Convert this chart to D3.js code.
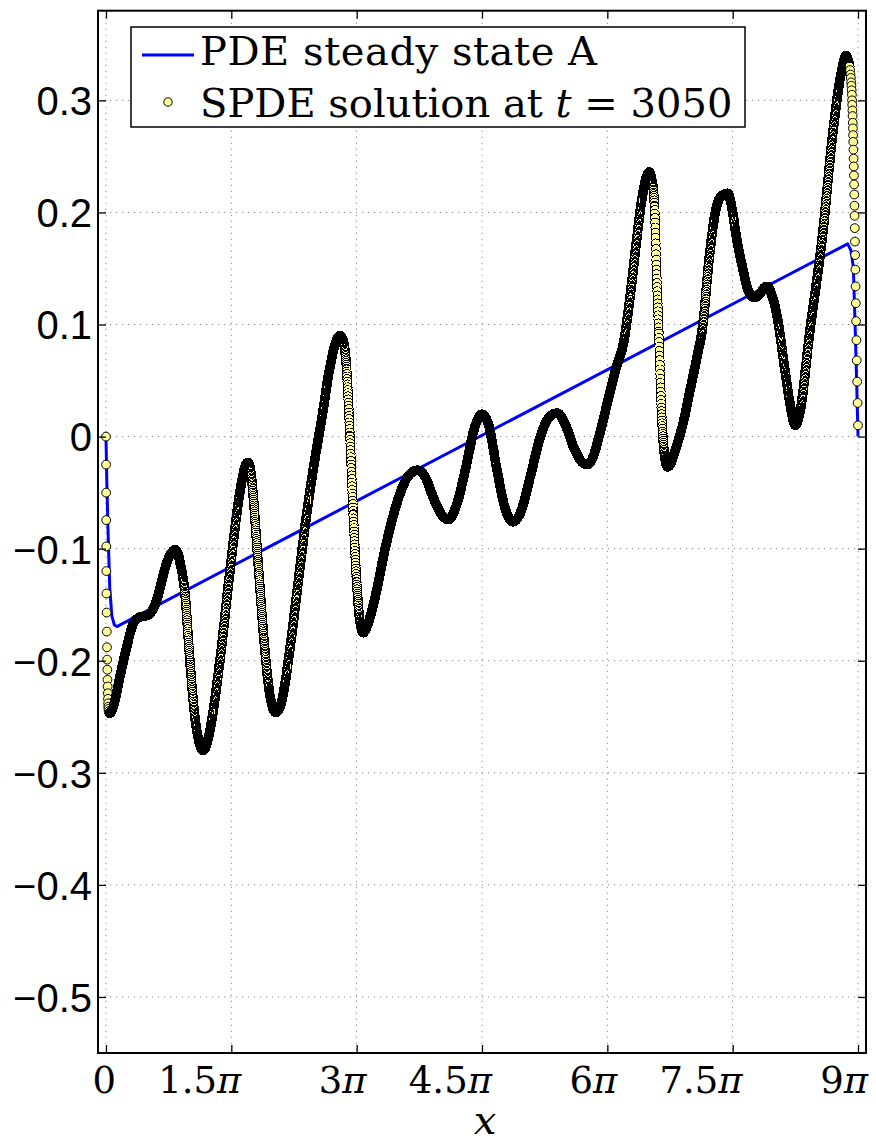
<!DOCTYPE html>
<html><head><meta charset="utf-8">
<script src="https://cdn.jsdelivr.net/npm/d3@7"></script>
<style>body{margin:0;background:#fff}svg{display:block}</style>
</head><body>
<svg id="chart" width="876" height="1143"></svg>
<script>
// ---------------- data (x in units of pi) ----------------
const xTickValues = [0, 1.5, 3, 4.5, 6, 7.5, 9];
const xTickNums = ["0", "1.5", "3", "4.5", "6", "7.5", "9"];
const yTickValues = [-0.5, -0.4, -0.3, -0.2, -0.1, 0, 0.1, 0.2, 0.3];
const legendLabels = ["PDE steady state A", "SPDE solution at "];

// PDE steady state A
const pdeX = [0, 0.01, 0.025, 0.045, 0.07, 0.1, 0.13, 8.876, 8.916, 8.944, 8.968, 8.985, 9.0];
const pdeY = [0, -0.04, -0.085, -0.135, -0.16, -0.168, -0.1695, 0.172, 0.166, 0.151, 0.092, 0.045, 0];

// SPDE solution at t = 3050
const spdeX = [
  0, 0.001, 0.002, 0.003, 0.004, 0.005, 0.006, 0.008, 0.010, 0.012, 0.014, 0.016, 0.018, 0.020,
  0.022, 0.024, 0.026, 0.028, 0.030, 0.033, 0.04,
  0.06, 0.087, 0.167, 0.247, 0.326, 0.407, 0.47, 0.526, 0.606, 0.68, 0.726, 0.78, 0.825,
  0.86, 0.885, 0.945, 1.004, 1.064, 1.112, 1.16, 1.2, 1.244, 1.363, 1.483, 1.602, 1.66,
  1.698, 1.73, 1.746, 1.818, 1.889, 1.96, 2.03, 2.08, 2.12, 2.2, 2.3, 2.4, 2.5, 2.58,
  2.68, 2.75, 2.80, 2.84, 2.88, 2.92, 2.96, 3.0, 3.04, 3.08, 3.12,
  3.2, 3.35, 3.5, 3.62, 3.73, 3.82, 3.92, 4.02, 4.10, 4.2, 4.3, 4.42, 4.5, 4.58, 4.68,
  4.78, 4.87, 4.96, 5.08, 5.2, 5.3, 5.4, 5.5, 5.6, 5.7, 5.76, 5.82, 5.9, 6.0, 6.1, 6.2,
  6.28, 6.35, 6.42, 6.47, 6.5, 6.53, 6.565, 6.59, 6.616, 6.65, 6.69, 6.72, 6.76, 6.8,
  6.9, 7.0, 7.07, 7.14, 7.22, 7.30, 7.37, 7.44, 7.5, 7.54, 7.62, 7.7, 7.76, 7.82, 7.88,
  7.92, 7.96, 8.04, 8.12, 8.18, 8.25, 8.3, 8.42, 8.577, 8.697, 8.797, 8.857,
  8.88, 8.9, 8.905, 8.91, 8.914, 8.918, 8.921, 8.924, 8.927, 8.929, 8.931, 8.933, 8.935,
  8.937, 8.939, 8.941, 8.943, 8.945, 8.947, 8.949, 8.951, 8.953, 8.955, 8.957, 8.959,
  8.961, 8.963, 8.965, 8.968, 8.971, 8.974, 8.977, 8.981, 8.985, 8.99, 8.995, 9.0
];
const spdeY = [
  0, -0.025, -0.050, -0.0745, -0.098, -0.120, -0.140, -0.157, -0.174, -0.188, -0.199, -0.208, -0.217, -0.223,
  -0.229, -0.234, -0.238, -0.241, -0.243, -0.245, -0.247,
  -0.246, -0.241, -0.214, -0.188, -0.167, -0.161, -0.160, -0.158, -0.146, -0.125, -0.113, -0.104, -0.101,
  -0.104, -0.112, -0.14, -0.2, -0.25, -0.272, -0.28, -0.276, -0.262, -0.2, -0.12, -0.05, -0.028,
  -0.023, -0.03, -0.04, -0.11, -0.18, -0.23, -0.246, -0.242, -0.23, -0.19, -0.13, -0.07, -0.02, 0.015,
  0.062, 0.084, 0.09, 0.085, 0.06, 0.0, -0.07, -0.13, -0.165, -0.175, -0.17,
  -0.15, -0.097, -0.055, -0.035, -0.03, -0.036, -0.055, -0.07, -0.074, -0.06, -0.03, 0.01, 0.02, 0.01, -0.03,
  -0.065, -0.076, -0.068, -0.035, 0.0, 0.017, 0.021, 0.01, -0.01, -0.023, -0.025, -0.02, 0.0, 0.03, 0.06, 0.086,
  0.13, 0.175, 0.215, 0.232, 0.236, 0.23, 0.205, 0.145, 0.092, 0.02, -0.02, -0.027, -0.024, -0.015,
  0.01, 0.045, 0.07, 0.098, 0.16, 0.203, 0.215, 0.217, 0.2, 0.18, 0.15, 0.128, 0.124, 0.127, 0.133,
  0.134, 0.128, 0.104, 0.062, 0.032, 0.010, 0.02, 0.092, 0.181, 0.27, 0.324, 0.340,
  0.336, 0.330, 0.327, 0.323, 0.320, 0.316, 0.313, 0.309, 0.305, 0.300, 0.296, 0.291, 0.286,
  0.280, 0.275, 0.269, 0.263, 0.256, 0.248, 0.241, 0.233, 0.225, 0.216, 0.206, 0.197,
  0.186, 0.174, 0.162, 0.149, 0.134, 0.119, 0.103, 0.086, 0.068, 0.049, 0.030, 0.010, 0
];

// ---------------- layout ----------------
const W = 876, H = 1143;
const box = {left: 98, right: 866, top: 10.7, bottom: 1053};
const PI = Math.PI;
const x = d3.scaleLinear().domain([-0.3, 9 * PI + 0.3]).range([box.left, box.right]);
const y = d3.scaleLinear().domain([-0.55, 0.38]).range([box.bottom, box.top]);
const svg = d3.select("#chart");
const serif = "'DejaVu Serif', 'Liberation Serif', serif";
const sans = "'Liberation Sans', Arial, Helvetica, sans-serif";
const markerR = 4.4;

svg.append("rect").attr("width", W).attr("height", H).attr("fill", "#fff");

// grid
const grid = svg.append("g").attr("stroke", "#888").attr("stroke-width", 1)
  .attr("stroke-dasharray", "1.2,4.8");
grid.selectAll("line.v").data(xTickValues).join("line").attr("class", "v")
  .attr("x1", d => x(d * PI)).attr("x2", d => x(d * PI))
  .attr("y1", box.top).attr("y2", box.bottom);
grid.selectAll("line.h").data(yTickValues).join("line").attr("class", "h")
  .attr("y1", d => y(d)).attr("y2", d => y(d))
  .attr("x1", box.left).attr("x2", box.right);

// PDE line
const pdePts = pdeX.map((v, i) => [x(v * PI), y(pdeY[i])]);
svg.append("path").attr("d", d3.line()(pdePts)).attr("fill", "none")
  .attr("stroke", "#0000ff").attr("stroke-width", 3).attr("stroke-linejoin", "round");

// SPDE markers: knots plus markers along the monotone curve (fine solver-grid look)
const spdePts = spdeX.map((v, i) => [x(v * PI), y(spdeY[i])]);
const segs = [];
const ctx = {
  cx: 0, cy: 0,
  moveTo(a, b) { this.cx = a; this.cy = b; },
  lineTo(a, b) { segs.push([this.cx, this.cy, this.cx + (a - this.cx) / 3, this.cy + (b - this.cy) / 3,
    a - (a - this.cx) / 3, b - (b - this.cy) / 3, a, b]); this.cx = a; this.cy = b; },
  bezierCurveTo(x1, y1, x2, y2, a, b) { segs.push([this.cx, this.cy, x1, y1, x2, y2, a, b]); this.cx = a; this.cy = b; },
  closePath() {}
};
d3.line().curve(d3.curveMonotoneX).context(ctx)(spdePts);
const minDense = 1.3, step = 0.15;
const isDenseSeg = segs.map(s => (s[6] - s[0]) >= minDense);
const markerPts = spdePts.map((p, i) => ({x: p[0], y: p[1],
  crisp: (i > 0 && isDenseSeg[i - 1]) || (i < segs.length && isDenseSeg[i])}));
segs.forEach((s, k) => {
  if (!isDenseSeg[k]) return;
  const [x0, y0, x1, y1, x2, y2, x3, y3] = s;
  const dx = x3 - x0;
  for (let xs = x0 + step; xs < x3 - 0.02; xs += step) {
    const t = (xs - x0) / dx, u = 1 - t;
    const yy = u * u * u * y0 + 3 * u * u * t * y1 + 3 * u * t * t * y2 + t * t * t * y3;
    markerPts.push({x: xs, y: yy, crisp: true});
  }
});
markerPts.sort((a, b) => a.x - b.x);
svg.append("g").selectAll("circle").data(markerPts).join("circle")
  .attr("cx", d => d.x).attr("cy", d => d.y).attr("r", markerR)
  .attr("shape-rendering", d => d.crisp ? "crispEdges" : "auto")
  .attr("fill", "#ffff99").attr("stroke", "#000").attr("stroke-width", 1);

// axes (ticks inside, box on)
const xt = xTickValues.map(v => v * PI);
const axB = svg.append("g").attr("transform", `translate(0,${box.bottom})`)
  .call(d3.axisBottom(x).tickValues(xt).tickSize(-8).tickFormat(""));
const axT = svg.append("g").attr("transform", `translate(0,${box.top})`)
  .call(d3.axisTop(x).tickValues(xt).tickSize(-8).tickFormat(""));
const axL = svg.append("g").attr("transform", `translate(${box.left},0)`)
  .call(d3.axisLeft(y).tickValues(yTickValues).tickSize(-8).tickPadding(6)
    .tickFormat(d => d === 0 ? "0" : d3.format(".1f")(d).replace("-", "\u2212")));
const axR = svg.append("g").attr("transform", `translate(${box.right},0)`)
  .call(d3.axisRight(y).tickValues(yTickValues).tickSize(-8).tickFormat(""));
[axB, axT, axL, axR].forEach(a => {
  a.select(".domain").remove();
  a.selectAll(".tick line").attr("stroke", "#000").attr("stroke-width", 1.3);
});
axL.selectAll(".tick text").attr("font-family", sans).attr("font-size", 40)
  .attr("fill", "#000").attr("dy", "0.36em");

// x tick labels (LaTeX style: number followed by pi)
const xl = svg.append("g").attr("font-family", serif).attr("font-size", 37).attr("fill", "#000");
xTickValues.forEach((v, i) => {
  const t = xl.append("text").attr("x", x(v * PI) + 10).attr("y", 1093).attr("text-anchor", "end");
  t.append("tspan").text(xTickNums[i]);
  if (v !== 0) t.append("tspan").attr("font-style", "italic").text("π");
});

svg.append("rect").attr("x", box.left).attr("y", box.top)
  .attr("width", box.right - box.left).attr("height", box.bottom - box.top)
  .attr("fill", "none").attr("stroke", "#000").attr("stroke-width", 2);

// x label
svg.append("text").attr("x", 485).attr("y", 1134).attr("text-anchor", "middle")
  .attr("font-family", serif).attr("font-style", "italic").attr("font-size", 40).text("x");

// legend
const lg = svg.append("g");
lg.append("rect").attr("x", 131).attr("y", 27).attr("width", 614).attr("height", 100)
  .attr("fill", "#fff").attr("stroke", "#000").attr("stroke-width", 1.5);
lg.append("line").attr("x1", 142).attr("x2", 194).attr("y1", 55).attr("y2", 55)
  .attr("stroke", "#0000ff").attr("stroke-width", 3);
lg.append("circle").attr("cx", 168).attr("cy", 102).attr("r", 4.2)
  .attr("fill", "#ffff99").attr("stroke", "#000").attr("stroke-width", 1);
lg.append("text").attr("x", 200).attr("y", 65).attr("font-family", serif).attr("font-size", 40)
  .attr("textLength", 397).attr("lengthAdjust", "spacing").text(legendLabels[0]);
const t2 = lg.append("text").attr("x", 200).attr("y", 117).attr("font-family", serif).attr("font-size", 40);
t2.append("tspan").text(legendLabels[1]);
t2.append("tspan").attr("font-style", "italic").text("t");
t2.append("tspan").text(" = 3050");
</script>
</body></html>
